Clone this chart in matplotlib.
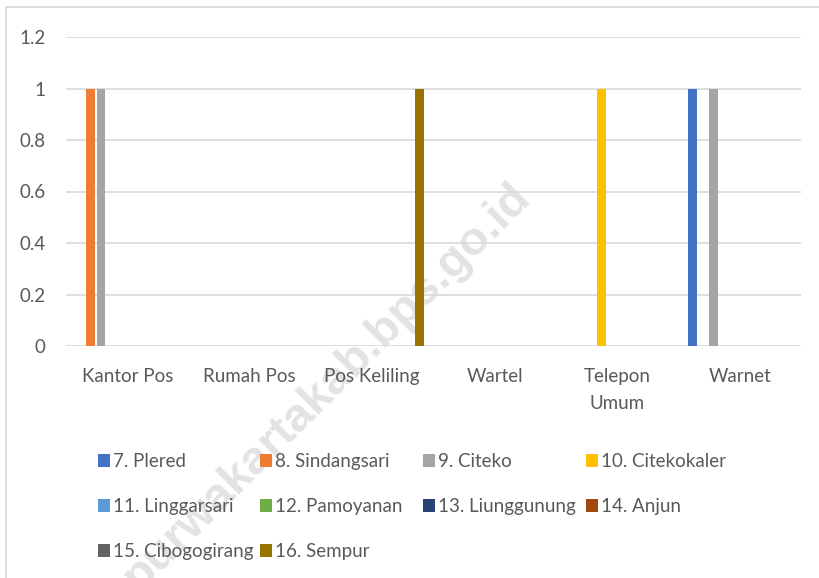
import matplotlib

matplotlib.use("Agg")
import matplotlib.pyplot as plt
import numpy as np
from matplotlib.patches import Rectangle

categories = ["Kantor Pos", "Rumah Pos", "Pos Keliling", "Wartel", "Telepon\nUmum", "Warnet"]
series_names = [
    "7. Plered", "8. Sindangsari", "9. Citeko", "10. Citekokaler",
    "11. Linggarsari", "12. Pamoyanan", "13. Liunggunung", "14. Anjun",
    "15. Cibogogirang", "16. Sempur",
]
series_colors = [
    "#4472C4", "#ED7D31", "#A5A5A5", "#FFC000", "#5B9BD5",
    "#70AD47", "#264478", "#9E480E", "#636363", "#997300",
]
# values per series, in category order
plered = [0, 0, 0, 0, 0, 1]
sindangsari = [1, 0, 0, 0, 0, 0]
citeko = [1, 0, 0, 0, 0, 1]
citekokaler = [0, 0, 0, 0, 1, 0]
linggarsari = [0, 0, 0, 0, 0, 0]
pamoyanan = [0, 0, 0, 0, 0, 0]
liunggunung = [0, 0, 0, 0, 0, 0]
anjun = [0, 0, 0, 0, 0, 0]
cibogogirang = [0, 0, 0, 0, 0, 0]
sempur = [0, 0, 1, 0, 0, 0]
values = [plered, sindangsari, citeko, citekokaler, linggarsari,
          pamoyanan, liunggunung, anjun, cibogogirang, sempur]
yticks = [0, 0.2, 0.4, 0.6, 0.8, 1, 1.2]
ytick_labels = ["0", "0.2", "0.4", "0.6", "0.8", "1", "1.2"]

W, H = 819, 578
FONT = ["Lato", "DejaVu Sans"]
TXT = "#595959"
GRID = "#d9d9d9"
FS = 13.5
FS_LEG = 13.5

plt.rcParams["font.family"] = FONT

fig = plt.figure(figsize=(W / 100, H / 100), dpi=100)
ax = fig.add_axes([66 / W, 1 - 346 / H, (801 - 66) / W, (346 - 37) / H])
ax.set_facecolor("none")

# chart frame (only left and top edges are visible in the crop)
fig.add_artist(Rectangle((6 / W, -0.1), 1.2, 1.1 - 7 / H, transform=fig.transFigure,
                         fill=False, edgecolor=GRID, linewidth=1.3))

# watermark
fig.text(327 / W, 1 - 387 / H, "purwakartakab.bps.go.id", rotation=45,
         ha="center", va="center", fontsize=34, fontweight="bold",
         family=["Liberation Sans", "DejaVu Sans"], color="#e3e3e3", zorder=-1)

x = np.arange(len(categories))
step = 0.0857
width = 0.069
n = len(values)
for i, (vals, color) in enumerate(zip(values, series_colors)):
    ax.bar(x + (i - (n - 1) / 2) * step, vals, width=width, color=color, zorder=3)

ax.set_xlim(-0.5, len(categories) - 0.5)
ax.set_ylim(0, 1.2)
ax.set_yticks(yticks)
ax.set_yticklabels(ytick_labels)
ax.set_xticks(x)
ax.set_xticklabels(categories, linespacing=1.75)
ax.tick_params(axis="y", length=0, pad=14.5, labelsize=FS, labelcolor=TXT)
ax.tick_params(axis="x", length=0, pad=15.5, labelsize=FS, labelcolor=TXT)
ax.grid(axis="y", color=GRID, linewidth=1.2, zorder=0)
for s in ax.spines.values():
    s.set_visible(False)

# legend, laid out like the spreadsheet's: 4 equal columns, 3 rows
col_x = [98, 260, 423, 586]
row_y = [460, 505, 550]
for i, (name, color) in enumerate(zip(series_names, series_colors)):
    cx = col_x[i % 4]
    cy = row_y[i // 4]
    fig.add_artist(Rectangle((cx / W, 1 - (cy + 6.5) / H), 12 / W, 13 / H,
                             transform=fig.transFigure, facecolor=color, edgecolor="none"))
    fig.text((cx + 15) / W, 1 - cy / H, name, ha="left", va="center_baseline",
             fontsize=FS_LEG, color=TXT)

fig.savefig("out.png", dpi=100)
